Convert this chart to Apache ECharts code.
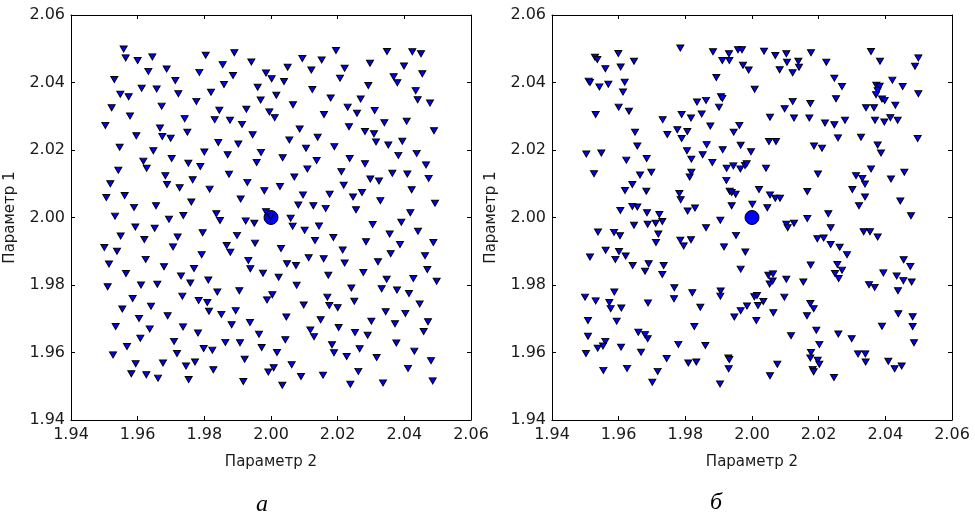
<!DOCTYPE html>
<html>
<head>
<meta charset="utf-8">
<script src="https://cdn.jsdelivr.net/npm/echarts@6/dist/echarts.min.js"></script>
<style>html,body{margin:0;padding:0;background:#fff;}#c{width:975px;height:517px;}</style>
</head>
<body>
<div id="c"></div>
<script>
const tickValues = [1.94, 1.96, 1.98, 2.00, 2.02, 2.04, 2.06];
const xName = 'Параметр 2';
const yName = 'Параметр 1';
const captions = ['а', 'б'];
const centerPoint = [[2.0, 2.0]];

const pointsA = [
[1.9558,2.0499],[1.9564,2.0473],[1.9600,2.0465],[1.9644,2.0476],[1.9804,2.0481],[1.9890,2.0488],[2.0195,2.0495],[2.0348,2.0492],[2.0424,2.0491],[2.0450,2.0485],
[1.9941,2.0461],[1.9855,2.0453],[2.0094,2.0471],[2.0152,2.0467],[2.0050,2.0445],[2.0297,2.0457],[2.0399,2.0449],[1.9632,2.0433],[1.9687,2.0440],[1.9785,2.0430],
[1.9886,2.0421],[1.9985,2.0428],[2.0002,2.0411],[2.0039,2.0403],[2.0121,2.0437],[2.0221,2.0442],[2.0207,2.0413],[2.0368,2.0417],[2.0379,2.0399],[2.0454,2.0426],
[1.9530,2.0409],[1.9713,2.0406],[1.9859,2.0394],[1.9612,2.0383],[1.9657,2.0381],[1.9960,2.0386],[2.0124,2.0379],[2.0292,2.0391],[2.0434,2.0376],[1.9548,2.0365],
[1.9573,2.0358],[1.9722,2.0367],[1.9820,2.0371],[2.0016,2.0362],[1.9969,2.0348],[1.9776,2.0344],[2.0179,2.0354],[2.0269,2.0351],[2.0440,2.0349],[2.0477,2.0339],
[1.9522,2.0325],[1.9672,2.0330],[1.9845,2.0318],[1.9926,2.0321],[2.0066,2.0334],[2.0230,2.0327],[1.9577,2.0301],[1.9741,2.0293],[1.9831,2.0290],[1.9877,2.0288],
[1.9995,2.0313],[2.0011,2.0296],[2.0159,2.0305],[2.0258,2.0309],[2.0311,2.0317],[2.0340,2.0281],[2.0407,2.0285],[1.9503,2.0273],[1.9667,2.0265],[1.9913,2.0276],
[2.0086,2.0262],[2.0234,2.0269],[2.0489,2.0257],[1.9749,2.0253],[1.9596,2.0242],[1.9674,2.0240],[1.9699,2.0235],[1.9945,2.0245],[2.0140,2.0238],[2.0282,2.0255],
[2.0309,2.0248],[2.0055,2.0230],[2.0315,2.0224],[2.0352,2.0215],[2.0394,2.0226],[1.9842,2.0222],[1.9902,2.0218],[1.9546,2.0208],[1.9647,2.0198],[1.9800,2.0194],
[1.9870,2.0186],[1.9970,2.0193],[2.0105,2.0205],[2.0190,2.0210],[2.0437,2.0190],[2.0382,2.0184],
[1.9617,2.0167],[1.9702,2.0175],[1.9752,2.0161],[1.9788,2.0151],[1.9627,2.0146],[1.9957,2.0163],[2.0035,2.0177],[2.0137,2.0169],[2.0236,2.0175],[2.0282,2.0159],
[2.0465,2.0156],[1.9542,2.0140],[2.0109,2.0144],[2.0211,2.0136],[1.9683,2.0124],[1.9765,2.0112],[1.9874,2.0128],[2.0070,2.0120],[2.0298,2.0114],[2.0324,2.0108],
[2.0364,2.0131],[2.0409,2.0129],[2.0473,2.0116],[1.9518,2.0100],[1.9688,2.0098],[1.9726,2.0088],[1.9816,2.0084],[1.9929,2.0104],[1.9980,2.0079],[2.0027,2.0092],
[2.0218,2.0096],[2.0422,2.0082],[1.9506,2.0059],[1.9561,2.0065],[1.9589,2.0030],[1.9655,2.0035],[1.9761,2.0046],[1.9909,2.0055],[2.0096,2.0067],[2.0176,2.0069],
[2.0246,2.0061],[2.0273,2.0074],[2.0328,2.0050],[2.0082,2.0037],[2.0127,2.0035],[2.0164,2.0027],[2.0255,2.0023],[2.0492,2.0042],[1.9532,2.0004],[1.9737,2.0006],
[1.9694,1.9995],[1.9836,2.0011],[1.9847,1.9991],[1.9924,1.9990],[1.9950,1.9983],[1.9985,2.0017],[1.9999,2.0002],[2.0059,1.9998],[2.0065,1.9974],[2.0101,1.9962],
[2.0144,1.9975],[2.0305,1.9979],[2.0391,1.9986],[2.0418,2.0014],[1.9593,1.9972],[1.9651,1.9968],[1.9795,1.9955],[1.9549,1.9945],[1.9620,1.9935],[1.9720,1.9942],
[1.9898,1.9947],[2.0132,1.9932],[2.0187,1.9941],[2.0356,1.9951],[2.0441,1.9959],[1.9500,1.9911],[1.9538,1.9900],[1.9706,1.9913],[1.9867,1.9917],[1.9878,1.9897],
[1.9952,1.9924],[2.0030,1.9908],[2.0215,1.9904],[2.0285,1.9928],[2.0387,1.9920],[2.0487,1.9926],[1.9792,1.9890],[1.9624,1.9876],[2.0113,1.9881],[2.0158,1.9878],
[2.0359,1.9893],[2.0462,1.9887],[1.9514,1.9862],[1.9679,1.9854],[1.9769,1.9849],[1.9932,1.9873],[1.9938,1.9848],[2.0048,1.9863],[2.0075,1.9858],[2.0221,1.9865],
[2.0321,1.9869],[2.0469,1.9846],
[1.9565,1.9834],[1.9730,1.9827],[1.9758,1.9806],[1.9812,1.9815],[1.9976,1.9835],[2.0023,1.9823],[2.0172,1.9829],[2.0277,1.9837],[2.0347,1.9817],[2.0427,1.9819],
[2.0497,1.9811],[1.9510,1.9795],[1.9610,1.9800],[1.9659,1.9802],[1.9905,1.9783],[1.9839,1.9779],[2.0077,1.9799],[2.0241,1.9791],[2.0332,1.9789],[2.0378,1.9785],
[2.0414,1.9775],[1.9585,1.9760],[1.9734,1.9767],[1.9783,1.9754],[1.9809,1.9748],[2.0004,1.9771],[1.9988,1.9756],[2.0169,1.9764],[2.0250,1.9752],[2.0446,1.9744],
[1.9554,1.9729],[1.9640,1.9737],[1.9814,1.9722],[1.9851,1.9713],[1.9894,1.9724],[2.0098,1.9741],[2.0175,1.9739],[2.0200,1.9733],[2.0344,1.9721],[2.0403,1.9716],
[1.9604,1.9701],[1.9690,1.9709],[2.0046,1.9705],[2.0149,1.9697],[2.0301,1.9693],[2.0372,1.9685],[2.0471,1.9691],[1.9534,1.9677],[1.9636,1.9670],[1.9736,1.9676],
[1.9882,1.9682],[1.9937,1.9689],[2.0118,1.9667],[2.0129,1.9647],[2.0203,1.9674],[2.0252,1.9659],[2.0290,1.9651],[2.0458,1.9662],[1.9608,1.9642],[1.9781,1.9658],
[1.9964,1.9654],[2.0043,1.9638],[1.9709,1.9633],[1.9863,1.9630],[1.9907,1.9629],[2.0376,1.9628],[2.0183,1.9623],[1.9568,1.9618],[1.9798,1.9612],[1.9824,1.9607],
[1.9972,1.9615],[2.0266,1.9611],[1.9526,1.9593],[1.9718,1.9597],[2.0018,1.9600],[2.0189,1.9599],[2.0227,1.9588],[2.0317,1.9585],[2.0430,1.9604],[1.9921,1.9580],
[2.0480,1.9576],[1.9594,1.9567],[1.9676,1.9569],[1.9745,1.9560],[1.9772,1.9572],[2.0062,1.9564],[2.0008,1.9555],[1.9992,1.9542],[1.9827,1.9549],[2.0411,1.9553],
[2.0262,1.9544],[1.9581,1.9537],[1.9626,1.9534],[1.9661,1.9524],[1.9753,1.9520],[2.0090,1.9529],[2.0156,1.9533],[1.9917,1.9514],[2.0034,1.9503],[2.0238,1.9506],
[2.0336,1.9510],[2.0485,1.9516]
];

const pointsB = [
[1.9529,2.0475],[1.9536,2.0468],[1.9599,2.0486],[1.9646,2.0463],[1.9560,2.0441],[1.9606,2.0446],[1.9785,2.0502],[1.9883,2.0491],[1.9931,2.0485],[1.9911,2.0465],
[1.9932,2.0465],[1.9958,2.0497],[1.9970,2.0497],[2.0036,2.0493],[2.0070,2.0480],[2.0103,2.0485],[2.0105,2.0460],[2.0139,2.0463],[2.0141,2.0445],[2.0083,2.0438],
[2.0122,2.0429],[2.0177,2.0488],[2.0223,2.0460],[1.9973,2.0451],[1.9990,2.0437],[2.0357,2.0492],[2.0384,2.0463],[2.0499,2.0473],[2.0489,2.0448],[1.9510,2.0404],
[1.9514,2.0400],[1.9542,2.0387],[1.9569,2.0395],[1.9618,2.0401],[1.9613,2.0372],[1.9893,2.0415],[2.0008,2.0380],[2.0247,2.0413],[2.0270,2.0388],[2.0373,2.0392],
[2.0383,2.0389],[2.0377,2.0376],[2.0372,2.0364],[2.0390,2.0351],[2.0398,2.0347],[2.0421,2.0407],[2.0452,2.0388],[2.0499,2.0367],[1.9835,2.0342],[1.9862,2.0347],
[1.9907,2.0358],[1.9911,2.0353],[1.9901,2.0327],[2.0122,2.0344],[2.0175,2.0338],[2.0252,2.0352],[2.0098,2.0322],[1.9600,2.0327],[1.9631,2.0315],[1.9531,2.0305],
[2.0430,2.0333],[2.0342,2.0325],[2.0366,2.0325],[1.9732,2.0290],[1.9789,2.0305],[1.9817,2.0295],[1.9849,2.0307],[1.9875,2.0271],[2.0054,2.0297],[2.0126,2.0295],
[2.0172,2.0295],[2.0219,2.0280],[2.0247,2.0275],[2.0279,2.0288],[2.0369,2.0288],[2.0397,2.0283],[2.0415,2.0296],[2.0437,2.0288],[1.9649,2.0253],[1.9746,2.0246],
[1.9776,2.0260],[1.9806,2.0255],[1.9789,2.0234],[1.9945,2.0253],[1.9962,2.0273],[1.9656,2.0212],[1.9864,2.0216],[1.9805,2.0198],[1.9852,2.0186],[1.9912,2.0201],
[1.9966,2.0214],[1.9997,2.0195],[2.0051,2.0225],[2.0072,2.0225],[2.0186,2.0212],[2.0210,2.0205],[2.0258,2.0236],[2.0327,2.0238],[2.0377,2.0215],[2.0497,2.0234],
[2.0387,2.0191],[1.9503,2.0188],[1.9548,2.0191],
[1.9623,2.0170],[1.9684,2.0175],[1.9818,2.0173],[1.9881,2.0163],[1.9924,2.0146],[1.9944,2.0153],[1.9965,2.0144],[1.9979,2.0154],[1.9984,2.0159],[2.0042,2.0146],
[1.9526,2.0130],[1.9664,2.0126],[1.9698,2.0134],[1.9818,2.0134],[1.9813,2.0120],[1.9923,2.0110],[2.0198,2.0129],[2.0312,2.0124],[2.0331,2.0116],[2.0339,2.0099],
[2.0357,2.0144],[2.0417,2.0114],[2.0457,2.0134],[1.9641,2.0098],[1.9619,2.0080],[1.9683,2.0078],[1.9782,2.0071],[1.9786,2.0053],[1.9933,2.0078],[1.9939,2.0074],
[1.9951,2.0069],[2.0021,2.0083],[2.0054,2.0067],[2.0070,2.0057],[2.0084,2.0057],[2.0166,2.0077],[2.0301,2.0083],[2.0339,2.0061],[2.0445,2.0049],[1.9605,2.0021],
[1.9641,2.0033],[1.9656,2.0031],[1.9685,2.0014],[1.9722,2.0009],[1.9731,1.9988],[1.9711,1.9983],[1.9687,1.9980],[1.9646,1.9977],[1.9807,2.0019],[1.9829,2.0028],
[1.9939,2.0035],[2.0001,2.0039],[2.0046,2.0029],[2.0321,2.0035],[2.0229,2.0011],[2.0477,2.0005],[1.9905,1.9992],[1.9862,1.9970],[2.0103,1.9980],[2.0107,1.9970],
[2.0126,1.9983],[2.0166,1.9997],[2.0236,1.9970],[1.9538,1.9957],[1.9586,1.9956],[1.9604,1.9946],[1.9719,1.9951],[1.9712,1.9926],[1.9785,1.9933],[1.9795,1.9916],
[1.9817,1.9934],[1.9952,1.9947],[1.9916,1.9913],[1.9980,1.9898],[2.0335,1.9958],[2.0354,1.9958],[2.0377,1.9942],[2.0196,1.9937],[2.0215,1.9939],[2.0236,1.9920],
[2.0263,1.9912],[2.0285,1.9890],[1.9561,1.9903],[1.9601,1.9899],[1.9590,1.9876],[1.9621,1.9886],[1.9514,1.9883],[1.9642,1.9858],[1.9690,1.9863],[1.9735,1.9858],
[1.9679,1.9841],[1.9966,1.9847],[2.0176,1.9859],[2.0256,1.9861],[2.0270,1.9844],[2.0455,1.9875],[2.0475,1.9855],
[1.9731,1.9831],[2.0049,1.9829],[2.0063,1.9833],[2.0053,1.9803],[2.0062,1.9812],[2.0103,1.9817],[2.0154,1.9809],[2.0249,1.9834],[2.0260,1.9819],[2.0394,1.9836],
[2.0434,1.9827],[2.0454,1.9813],[2.0479,1.9809],[1.9767,1.9792],[1.9821,1.9777],[1.9906,1.9782],[1.9905,1.9767],[1.9587,1.9779],[1.9499,1.9764],[1.9531,1.9753],
[1.9572,1.9748],[1.9576,1.9730],[1.9608,1.9732],[1.9688,1.9747],[1.9766,1.9759],[1.9845,1.9734],[2.0007,1.9765],[2.0015,1.9769],[2.0034,1.9751],[2.0018,1.9739],
[1.9985,1.9738],[1.9966,1.9724],[1.9947,1.9705],[2.0013,1.9695],[2.0064,1.9718],[2.0097,1.9764],[2.0175,1.9745],[2.0185,1.9730],[2.0165,1.9709],[2.0351,1.9801],
[2.0368,1.9793],[2.0438,1.9783],[2.0439,1.9715],[2.0482,1.9706],[1.9508,1.9695],[1.9594,1.9693],[1.9827,1.9677],[2.0390,1.9678],[2.0482,1.9677],[1.9508,1.9648],
[1.9560,1.9633],[1.9553,1.9619],[1.9537,1.9613],[1.9607,1.9616],[1.9659,1.9660],[1.9679,1.9653],[1.9687,1.9641],[1.9667,1.9601],[1.9502,1.9597],[1.9779,1.9624],
[1.9860,1.9621],[2.0117,1.9650],[2.0193,1.9666],[2.0259,1.9655],[2.0299,1.9641],[2.0202,1.9624],[2.0177,1.9600],[2.0175,1.9584],[2.0197,1.9577],[2.0202,1.9565],
[2.0182,1.9550],[2.0185,1.9543],[2.0486,1.9629],[2.0318,1.9596],[2.0340,1.9596],[2.0341,1.9572],[2.0409,1.9574],[2.0428,1.9552],[2.0449,1.9560],[1.9744,1.9582],
[1.9809,1.9569],[1.9833,1.9572],[1.9929,1.9584],[1.9932,1.9579],[1.9930,1.9552],[2.0076,1.9565],[1.9554,1.9547],[1.9625,1.9553],[1.9717,1.9544],[1.9701,1.9512],
[1.9904,1.9507],[2.0054,1.9531],[2.0246,1.9526]
];

const chart = echarts.init(document.getElementById('c'), null, {renderer: 'canvas'});
const FONT = 'DejaVu Sans';
const minV = tickValues[0], maxV = tickValues[tickValues.length - 1], step = 0.02;
const lineStyle = {color: '#000', width: 1};

function mainX(gi) {
  return {
    type: 'value', gridIndex: gi, min: minV, max: maxV, interval: step, position: 'bottom',
    axisLine: {show: true, onZero: false, lineStyle: lineStyle},
    axisTick: {show: true, inside: true, length: 4, lineStyle: lineStyle},
    axisLabel: {show: true, margin: 7, color: '#1a1a1a', fontFamily: FONT, fontSize: 16,
      formatter: v => v.toFixed(2)},
    splitLine: {show: false},
    name: xName, nameLocation: 'middle', nameGap: 35,
    nameTextStyle: {color: '#1a1a1a', fontFamily: FONT, fontSize: 15}
  };
}
function mainY(gi) {
  return {
    type: 'value', gridIndex: gi, min: minV, max: maxV, interval: step, position: 'left',
    axisLine: {show: true, onZero: false, lineStyle: lineStyle},
    axisTick: {show: true, inside: true, length: 4, lineStyle: lineStyle},
    axisLabel: {show: true, margin: 6, color: '#1a1a1a', fontFamily: FONT, fontSize: 16,
      formatter: v => v.toFixed(2)},
    splitLine: {show: false},
    name: yName, nameLocation: 'middle', nameGap: 53, nameRotate: 90,
    nameTextStyle: {color: '#1a1a1a', fontFamily: FONT, fontSize: 15}
  };
}
function sideAxis(gi, pos) {
  return {
    type: 'value', gridIndex: gi, min: minV, max: maxV, interval: step, position: pos,
    axisLine: {show: true, onZero: false, lineStyle: lineStyle},
    axisTick: {show: true, inside: true, length: 4, lineStyle: lineStyle},
    axisLabel: {show: false}, splitLine: {show: false}
  };
}

const triStyle = {color: '#0000ff', borderColor: '#000', borderWidth: 1, opacity: 1};
const circStyle = {color: '#0000ff', borderColor: '#000', borderWidth: 1, opacity: 1};

chart.setOption({
  animation: false,
  backgroundColor: '#fff',
  grid: [
    {left: 71, top: 15, width: 400, height: 405},
    {left: 552, top: 15, width: 400, height: 405}
  ],
  xAxis: [mainX(0), mainX(1), sideAxis(0, 'top'), sideAxis(1, 'top')],
  yAxis: [mainY(0), mainY(1), sideAxis(0, 'right'), sideAxis(1, 'right')],
  series: [
    {type: 'scatter', xAxisIndex: 0, yAxisIndex: 0, data: centerPoint, symbol: 'circle',
      symbolSize: 14, itemStyle: circStyle, z: 2},
    {type: 'scatter', xAxisIndex: 0, yAxisIndex: 0, data: pointsA, symbol: 'triangle',
      symbolRotate: 180, symbolSize: [7, 6], itemStyle: triStyle, z: 3},
    {type: 'scatter', xAxisIndex: 1, yAxisIndex: 1, data: pointsB, symbol: 'triangle',
      symbolRotate: 180, symbolSize: [7, 6], itemStyle: triStyle, z: 2},
    {type: 'scatter', xAxisIndex: 1, yAxisIndex: 1, data: centerPoint, symbol: 'circle',
      symbolSize: 14, itemStyle: circStyle, z: 3}
  ],
  graphic: [
    {type: 'text', x: 262, y: 505, style: {text: captions[0], font: 'italic 24px "Liberation Serif"',
      fill: '#000', textAlign: 'center', textVerticalAlign: 'middle'}},
    {type: 'text', x: 716, y: 503, style: {text: captions[1], font: 'italic 24px "Liberation Serif"',
      fill: '#000', textAlign: 'center', textVerticalAlign: 'middle'}}
  ]
});
</script>
</body>
</html>
